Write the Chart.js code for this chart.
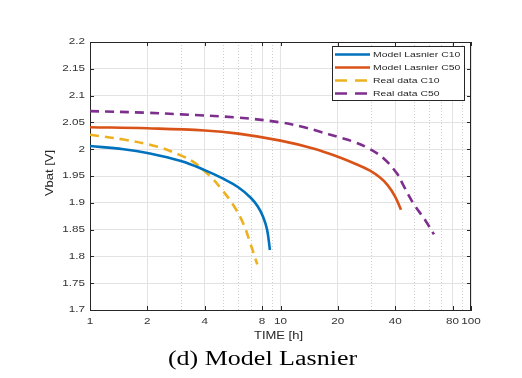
<!DOCTYPE html>
<html>
<head>
<meta charset="utf-8">
<script src="https://cdn.jsdelivr.net/npm/chart.js@4/dist/chart.umd.min.js"></script>
<style>
  html, body { margin: 0; padding: 0; background: #fff; }
  canvas { display: block; }
</style>
</head>
<body>
<canvas id="c" width="522" height="378"></canvas>
<script>
// Discharge curves: battery voltage against time, log time axis
const xTicks = [1, 2, 4, 8, 10, 20, 40, 80, 100];
const xMinorGrid = [3, 5, 6, 7, 9, 30, 50, 60, 70, 90];
const yTicks = [1.7, 1.75, 1.8, 1.85, 1.9, 1.95, 2.0, 2.05, 2.1, 2.15, 2.2];

const seriesLabels = ['Model Lasnier C10', 'Model Lasnier C50', 'Real data C10', 'Real data C50'];

const c10ModelTime = [1, 1.5, 2, 3, 4, 5, 6, 7, 7.6, 8.1, 8.5, 8.8];
const c10ModelVolt = [2.006, 2.000, 1.993, 1.978, 1.961, 1.945, 1.929, 1.909, 1.893, 1.874, 1.850, 1.812];

const c50ModelTime = [1, 2, 4, 6, 10, 15, 20, 25, 29.5, 33.3, 36.5, 39.9, 42.9];
const c50ModelVolt = [2.041, 2.039, 2.035, 2.029, 2.016, 2.001, 1.986, 1.972, 1.960, 1.947, 1.933, 1.912, 1.887];

const c10RealTime = [1, 1.5, 2.24, 2.97, 3.5, 3.93, 4.4, 4.81, 5.65, 6.38, 6.92, 7.55];
const c10RealVolt = [2.027, 2.018, 2.005, 1.989, 1.976, 1.961, 1.945, 1.929, 1.896, 1.861, 1.826, 1.785];

const c50RealTime = [1, 2, 3, 6, 10, 13, 16, 20, 25, 29.5, 34.7, 40.8, 44.1, 49.8, 57.4, 63.9];
const c50RealVolt = [2.071, 2.068, 2.065, 2.059, 2.050, 2.042, 2.033, 2.023, 2.012, 2.000, 1.983, 1.955, 1.933, 1.899, 1.868, 1.841];

const colors = ['#0072BD', '#D95319', '#EDB120', '#7E2F8E'];
const TEXT_STRETCH = 1.3;

function pairs(xs, ys) { return xs.map((x, i) => ({ x: x, y: ys[i] })); }

// wide lettering: every string is drawn stretched horizontally about its anchor
const canvas = document.getElementById('c');
const ctx = canvas.getContext('2d');
const baseFillText = ctx.fillText.bind(ctx);
ctx.fillText = function (text, x, y, maxWidth) {
  this.save();
  this.translate(x, y);
  this.scale(TEXT_STRETCH, 1);
  if (maxWidth === undefined) baseFillText(text, 0, 0);
  else baseFillText(text, 0, 0, maxWidth / TEXT_STRETCH);
  this.restore();
};

const frameColor = '#262626';

const axesDecor = {
  id: 'axesDecor',
  beforeDatasetsDraw(chart) {
    const { ctx, chartArea: a, scales } = chart;
    ctx.save();
    // dotted minor grid on the log axis
    ctx.strokeStyle = '#d0d0d0';
    ctx.lineWidth = 1;
    ctx.setLineDash([1, 2]);
    xMinorGrid.forEach(v => {
      const px = Math.round(scales.x.getPixelForValue(v)) + 0.5;
      ctx.beginPath(); ctx.moveTo(px, a.top); ctx.lineTo(px, a.bottom); ctx.stroke();
    });
    ctx.setLineDash([]);
    // box and inward tick marks
    ctx.strokeStyle = frameColor;
    ctx.beginPath();
    ctx.moveTo(a.left, a.top + 0.5); ctx.lineTo(a.right, a.top + 0.5);
    ctx.moveTo(a.right - 0.5, a.top); ctx.lineTo(a.right - 0.5, a.bottom);
    xTicks.forEach(v => {
      const px = Math.round(scales.x.getPixelForValue(v)) + 0.5;
      ctx.moveTo(px, a.bottom); ctx.lineTo(px, a.bottom - 4);
      ctx.moveTo(px, a.top); ctx.lineTo(px, a.top + 4);
    });
    yTicks.forEach(v => {
      const py = Math.round(scales.y.getPixelForValue(v)) + 0.5;
      ctx.moveTo(a.left, py); ctx.lineTo(a.left + 4, py);
      ctx.moveTo(a.right, py); ctx.lineTo(a.right - 4, py);
    });
    ctx.stroke();
    ctx.restore();
  },
  afterDraw(chart) {
    const { ctx, chartArea: a } = chart;
    ctx.save();
    // axis titles
    ctx.fillStyle = frameColor;
    ctx.font = '10px "Liberation Sans", Arial, sans-serif';
    ctx.textAlign = 'center';
    ctx.textBaseline = 'middle';
    ctx.fillText('TIME [h]', (a.left + a.right) / 2 - 2, 336.5);
    ctx.save();
    ctx.translate(50, 173);
    ctx.rotate(-Math.PI / 2);
    ctx.fillText('Vbat [V]', 0, 0);
    ctx.restore();

    // legend box
    const lx = 332.5, ly = 46.5, lw = 132, lh = 54;
    ctx.fillStyle = '#ffffff';
    ctx.fillRect(lx, ly, lw, lh);
    ctx.strokeStyle = frameColor;
    ctx.lineWidth = 1;
    ctx.strokeRect(lx, ly, lw, lh);
    ctx.font = '8px "Liberation Sans", Arial, sans-serif';
    ctx.textAlign = 'left';
    chart.data.datasets.forEach((ds, i) => {
      const ry = 54.5 + i * 13;
      ctx.strokeStyle = ds.borderColor;
      ctx.lineWidth = 2.5;
      ctx.setLineDash(ds.borderDash && ds.borderDash.length ? [12, 8] : []);
      ctx.beginPath(); ctx.moveTo(335, ry); ctx.lineTo(370, ry); ctx.stroke();
      ctx.setLineDash([]);
      ctx.fillStyle = frameColor;
      ctx.fillText(ds.label, 373, ry + 0.5);
    });

    // caption
    ctx.fillStyle = '#000';
    ctx.font = '20px "Liberation Serif", "Times New Roman", serif';
    ctx.textAlign = 'center';
    ctx.textBaseline = 'alphabetic';
    ctx.fillText('(d) Model Lasnier', 262.5, 365);
    ctx.restore();
  }
};

const lineStyle = (label, color, dashed, data) => ({
  label: label,
  data: data,
  borderColor: color,
  backgroundColor: color,
  borderWidth: 2.6,
  borderDash: dashed ? [9, 6] : [],
  pointRadius: 0,
  fill: false,
  tension: 0.4
});

new Chart(ctx, {
  type: 'line',
  data: {
    datasets: [
      lineStyle(seriesLabels[0], colors[0], false, pairs(c10ModelTime, c10ModelVolt)),
      lineStyle(seriesLabels[1], colors[1], false, pairs(c50ModelTime, c50ModelVolt)),
      lineStyle(seriesLabels[2], colors[2], true, pairs(c10RealTime, c10RealVolt)),
      lineStyle(seriesLabels[3], colors[3], true, pairs(c50RealTime, c50RealVolt))
    ]
  },
  options: {
    responsive: false,
    animation: false,
    devicePixelRatio: 1,
    layout: { padding: { left: 0, top: 42, right: 51, bottom: 0 } },
    plugins: { legend: { display: false }, tooltip: { enabled: false }, title: { display: false } },
    scales: {
      x: {
        type: 'logarithmic',
        min: 1, max: 100,
        afterBuildTicks: s => { s.ticks = xTicks.map(v => ({ value: v })); },
        afterFit: s => { s.height = 68; },
        ticks: {
          autoSkip: false, maxRotation: 0, padding: 6,
          color: '#333',
          font: { family: '"Liberation Sans", Arial, sans-serif', size: 9 },
          callback: v => String(v)
        },
        grid: { color: '#e3e3e3', lineWidth: 1, drawTicks: false },
        border: { display: true, color: frameColor, width: 1 }
      },
      y: {
        type: 'linear',
        min: 1.7, max: 2.2,
        afterBuildTicks: s => { s.ticks = yTicks.map(v => ({ value: v })); },
        afterFit: s => { s.width = 90; },
        ticks: {
          padding: 5,
          color: '#333',
          font: { family: '"Liberation Sans", Arial, sans-serif', size: 9 },
          callback: v => String(+Number(v).toFixed(2))
        },
        grid: { color: '#e3e3e3', lineWidth: 1, drawTicks: false },
        border: { display: true, color: frameColor, width: 1 }
      }
    }
  },
  plugins: [axesDecor]
});
</script>
</body>
</html>
